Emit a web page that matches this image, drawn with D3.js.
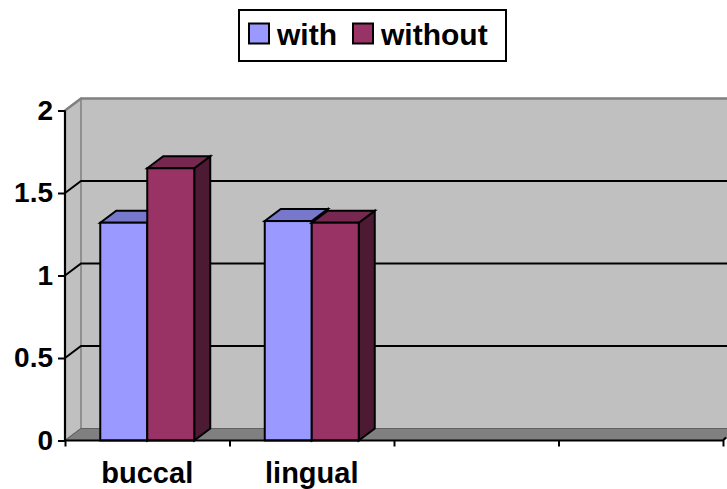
<!DOCTYPE html>
<html>
<head>
<meta charset="utf-8">
<script src="https://cdn.jsdelivr.net/npm/d3@7"></script>
<style>
  html, body { margin: 0; padding: 0; background: #ffffff; }
  svg { display: block; }
  text { font-family: "Liberation Sans", Arial, sans-serif; font-weight: bold; fill: #000; }
</style>
</head>
<body>
<svg id="chart" width="727" height="489"></svg>
<script>
// Category slots along the floor (the last two are empty)
const categories = ["buccal", "lingual", "", ""];
const seriesNames = ["with", "without"];
const withValues = [1.32, 1.33];
const withoutValues = [1.65, 1.32];
const yTickValues = [0, 0.5, 1, 1.5, 2];

const seriesColors = [
  { front: "#9999ff", top: "#7777cc", side: "#6666aa" },
  { front: "#993366", top: "#772850", side: "#4d1a33" }
];

const svg = d3.select("#chart");

// Front plane of the plot and the depth offset of the 3D box
const left = 65, right = 723, bottom = 440.5, topY = 110.5;
const depthX = 16, depthY = -12;

const y = d3.scaleLinear().domain([0, 2]).range([bottom, topY]);
const x = d3.scaleBand().domain(d3.range(categories.length)).range([left, right]).padding(0);
const xEdges = d3.scaleLinear().domain([0, categories.length]).range([left, right]);

const line = d3.line();
const poly = pts => line(pts) + "Z";

// Back wall
svg.append("path")
  .attr("d", poly([[left + depthX, y(2) + depthY], [right + depthX + 10, y(2) + depthY],
                   [right + depthX + 10, y(0) + depthY], [left + depthX, y(0) + depthY]]))
  .attr("fill", "#c0c0c0");

// Side wall
svg.append("path")
  .attr("d", poly([[left, y(0)], [left, y(2)], [left + depthX, y(2) + depthY], [left + depthX, y(0) + depthY]]))
  .attr("fill", "#c0c0c0")
  .attr("stroke", "#808080").attr("stroke-width", 1.5);

// Floor
svg.append("path")
  .attr("d", poly([[left, y(0)], [right, y(0)], [right + depthX, y(0) + depthY], [left + depthX, y(0) + depthY]]))
  .attr("fill", "#808080")
  .attr("stroke", "#606060").attr("stroke-width", 1);

// Top edge of the back wall
svg.append("path")
  .attr("d", line([[left, y(2)], [left + depthX, y(2) + depthY], [right + depthX + 10, y(2) + depthY]]))
  .attr("fill", "none").attr("stroke", "#808080").attr("stroke-width", 2.5);

// Major gridlines on the walls
const gridVals = yTickValues.filter(v => v > 0 && v < 2);
svg.selectAll("path.grid").data(gridVals).enter().append("path")
  .attr("class", "grid")
  .attr("d", v => line([[left, y(v)], [left + depthX, y(v) + depthY], [right + depthX + 10, y(v) + depthY]]))
  .attr("fill", "none").attr("stroke", "#000").attr("stroke-width", 2);

// Bars: front, top and side faces for each series
const barW = x.bandwidth() * 0.2857;
const groupOffset = (x.bandwidth() - 2 * barW) / 2;
const seriesValues = [withValues, withoutValues];

seriesValues.forEach((vals, s) => {
  const c = seriesColors[s];
  vals.forEach((v, i) => {
    const x0 = x(i) + groupOffset + s * barW;
    const x1 = x0 + barW;
    const yv = y(v), y0 = y(0);
    const g = svg.append("g").attr("class", "bar")
      .attr("stroke", "#000").attr("stroke-width", 2).attr("stroke-linejoin", "miter");
    g.append("path")
      .attr("d", poly([[x1, yv], [x1 + depthX, yv + depthY], [x1 + depthX, y0 + depthY], [x1, y0]]))
      .attr("fill", c.side);
    g.append("path")
      .attr("d", poly([[x0, yv], [x0 + depthX, yv + depthY], [x1 + depthX, yv + depthY], [x1, yv]]))
      .attr("fill", c.top);
    g.append("rect")
      .attr("x", x0).attr("y", yv).attr("width", barW).attr("height", y0 - yv)
      .attr("fill", c.front);
  });
});

// Value axis
const yAxis = svg.append("g")
  .attr("transform", `translate(${left},0)`)
  .call(d3.axisLeft(y).tickValues(yTickValues).tickFormat(d => String(d)).tickSize(7).tickPadding(5));
yAxis.select(".domain").attr("stroke", "#000").attr("stroke-width", 2.2)
  .attr("d", `M0,${y(0)}V${y(2)}`);
yAxis.selectAll(".tick line").attr("stroke", "#000").attr("stroke-width", 2);
yAxis.selectAll(".tick text").attr("font-size", 28).attr("font-family", "Liberation Sans, Arial, sans-serif")
  .attr("font-weight", "bold").attr("fill", "#000");

// Category axis: ticks at slot boundaries, labels centred in slots
const xAxis = svg.append("g")
  .attr("transform", `translate(0,${y(0)})`)
  .call(d3.axisBottom(xEdges).tickValues(d3.range(categories.length + 1)).tickFormat("").tickSize(6));
xAxis.select(".domain").attr("stroke", "#000").attr("stroke-width", 2.2)
  .attr("d", `M${left},0H${right}l3,-3`);
xAxis.selectAll(".tick line").attr("stroke", "#000").attr("stroke-width", 2);

svg.selectAll("text.cat").data(categories).enter().append("text")
  .attr("class", "cat")
  .attr("x", (d, i) => x(i) + x.bandwidth() / 2)
  .attr("y", 483)
  .attr("text-anchor", "middle")
  .attr("font-size", 29)
  .text(d => d);

// Legend
const legend = svg.append("g");
legend.append("rect")
  .attr("x", 239).attr("y", 10).attr("width", 267).attr("height", 51)
  .attr("fill", "#fff").attr("stroke", "#000").attr("stroke-width", 2);
const legendX = [249, 353];
seriesNames.forEach((name, s) => {
  legend.append("rect")
    .attr("x", legendX[s]).attr("y", 23.5).attr("width", 20).attr("height", 20)
    .attr("fill", seriesColors[s].front).attr("stroke", "#000").attr("stroke-width", 2);
  legend.append("text")
    .attr("x", legendX[s] + 28).attr("y", 44.5)
    .attr("font-size", 30)
    .text(name);
});
</script>
</body>
</html>
